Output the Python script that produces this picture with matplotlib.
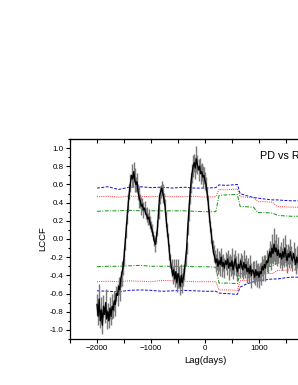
import numpy as np
import matplotlib
matplotlib.use("Agg")
import matplotlib.pyplot as plt
from matplotlib.ticker import MultipleLocator

plt.rcParams['font.family'] = ['Liberation Sans', 'DejaVu Sans']

# lag grid (days) and LCCF values
lag = np.arange(-2000, 1801, 20)
lccf = [
    -0.72, -0.85, -0.66, -0.9, -0.78, -0.95, -0.74, -0.83, -0.7, -0.88,
    -0.8, -0.9, -0.76, -0.85, -0.74, -0.78, -0.68, -0.72, -0.6, -0.62,
    -0.52, -0.56, -0.44, -0.38, -0.32, -0.2, -0.05, 0.1, 0.25, 0.4,
    0.52, 0.62, 0.7, 0.66, 0.74, 0.65, 0.6, 0.63, 0.52, 0.46,
    0.42, 0.36, 0.38, 0.32, 0.34, 0.28, 0.27, 0.22, 0.24, 0.18,
    0.14, 0.1, 0.04, -0.02, -0.06, 0.02, 0.12, 0.3, 0.48, 0.52,
    0.56, 0.5, 0.44, 0.36, 0.22, 0.1, 0.0, -0.14, -0.24, -0.32,
    -0.4, -0.34, -0.44, -0.36, -0.48, -0.38, -0.42, -0.52, -0.4, -0.48,
    -0.42, -0.36, -0.22, -0.1, 0.12, 0.3, 0.48, 0.62, 0.72, 0.8,
    0.84, 0.78, 0.88, 0.82, 0.76, 0.8, 0.72, 0.74, 0.68, 0.7,
    0.64, 0.6, 0.5, 0.4, 0.26, 0.14, 0.04, -0.08, -0.16, -0.2,
    -0.26, -0.22, -0.3, -0.24, -0.28, -0.2, -0.3, -0.26, -0.32, -0.24,
    -0.28, -0.22, -0.32, -0.26, -0.3, -0.24, -0.34, -0.28, -0.22, -0.3,
    -0.36, -0.28, -0.32, -0.24, -0.3, -0.34, -0.26, -0.32, -0.28, -0.36,
    -0.32, -0.38, -0.3, -0.4, -0.34, -0.36, -0.42, -0.34, -0.4, -0.36,
    -0.42, -0.36, -0.38, -0.3, -0.34, -0.28, -0.32, -0.24, -0.26, -0.2,
    -0.14, -0.2, -0.1, -0.16, -0.06, -0.14, -0.1, -0.18, -0.12, -0.2,
    -0.16, -0.22, -0.14, -0.2, -0.1, -0.18, -0.24, -0.16, -0.2, -0.14,
    -0.2, -0.24, -0.16, -0.22, -0.28, -0.2, -0.26, -0.22, -0.3, -0.24,
    -0.26,
]
lccf_err = [
    0.12, 0.1, 0.16, 0.08, 0.14, 0.1, 0.12, 0.09, 0.15, 0.11,
    0.1, 0.08, 0.12, 0.1, 0.14, 0.09, 0.11, 0.13, 0.08, 0.12,
    0.1, 0.12, 0.09, 0.14, 0.08, 0.1, 0.07, 0.09, 0.08, 0.1,
    0.08, 0.1, 0.12, 0.09, 0.11, 0.13, 0.08, 0.1, 0.09, 0.12,
    0.08, 0.1, 0.07, 0.09, 0.08, 0.06, 0.08, 0.07, 0.09, 0.07,
    0.06, 0.07, 0.05, 0.06, 0.08, 0.07, 0.09, 0.08, 0.1, 0.07,
    0.08, 0.1, 0.07, 0.08, 0.09, 0.08, 0.07, 0.09, 0.08, 0.1,
    0.1, 0.12, 0.09, 0.14, 0.1, 0.16, 0.12, 0.1, 0.13, 0.11,
    0.1, 0.09, 0.08, 0.07, 0.08, 0.1, 0.09, 0.11, 0.1, 0.12,
    0.1, 0.12, 0.14, 0.1, 0.12, 0.09, 0.11, 0.1, 0.12, 0.09,
    0.1, 0.08, 0.07, 0.08, 0.07, 0.06, 0.08, 0.07, 0.09, 0.08,
    0.1, 0.12, 0.09, 0.11, 0.13, 0.1, 0.12, 0.09, 0.11, 0.1,
    0.12, 0.1, 0.13, 0.09, 0.11, 0.14, 0.1, 0.12, 0.1, 0.11,
    0.1, 0.13, 0.11, 0.09, 0.12, 0.1, 0.14, 0.11, 0.1, 0.12,
    0.11, 0.1, 0.12, 0.14, 0.1, 0.12, 0.09, 0.11, 0.13, 0.1,
    0.12, 0.1, 0.13, 0.11, 0.12, 0.1, 0.14, 0.12, 0.11, 0.1,
    0.12, 0.14, 0.16, 0.12, 0.18, 0.13, 0.15, 0.12, 0.14, 0.12,
    0.13, 0.12, 0.15, 0.11, 0.14, 0.12, 0.13, 0.11, 0.12, 0.14,
    0.12, 0.11, 0.13, 0.12, 0.1, 0.12, 0.11, 0.13, 0.12, 0.11,
    0.12,
]

# significance levels
sig_lag = [-2000, -1800, -1600, -1400, -1200, -1000, -800, -600, -400, -200,
           0, 200, 260, 400, 600, 650, 750, 900, 980, 1100, 1250, 1340,
           1450, 1600, 1800]
blue_up = [0.56, 0.575, 0.545, 0.57, 0.575, 0.565, 0.57, 0.56, 0.57, 0.56,
           0.56, 0.565, 0.595, 0.59, 0.6, 0.5, 0.48, 0.455, 0.45, 0.44,
           0.43, 0.43, 0.425, 0.42, 0.42]
red_up = [0.465, 0.47, 0.46, 0.47, 0.47, 0.465, 0.47, 0.465, 0.465, 0.47,
          0.46, 0.465, 0.545, 0.54, 0.55, 0.465, 0.46, 0.455, 0.41, 0.41,
          0.405, 0.355, 0.355, 0.35, 0.35]
green_up = [0.305, 0.31, 0.31, 0.315, 0.31, 0.31, 0.31, 0.31, 0.31, 0.305,
            0.3, 0.3, 0.48, 0.485, 0.49, 0.36, 0.355, 0.35, 0.29, 0.29,
            0.285, 0.26, 0.255, 0.25, 0.25]
green_lo = [-0.305, -0.3, -0.3, -0.295, -0.29, -0.3, -0.3, -0.3, -0.3, -0.305,
            -0.305, -0.31, -0.485, -0.485, -0.49, -0.38, -0.38, -0.375, -0.31,
            -0.31, -0.3, -0.265, -0.26, -0.255, -0.25]
red_lo = [-0.47, -0.465, -0.47, -0.46, -0.465, -0.47, -0.455, -0.46, -0.465,
          -0.47, -0.47, -0.47, -0.56, -0.56, -0.565, -0.46, -0.455, -0.45,
          -0.39, -0.38, -0.38, -0.345, -0.345, -0.34, -0.34]
blue_lo = [-0.57, -0.575, -0.58, -0.565, -0.56, -0.565, -0.575, -0.57, -0.565,
           -0.57, -0.575, -0.575, -0.595, -0.6, -0.61, -0.53, -0.5, -0.47,
           -0.46, -0.45, -0.44, -0.44, -0.43, -0.42, -0.42]

fig = plt.figure(figsize=(2.98, 3.85), dpi=100)
ax = fig.add_axes([0.2349, 0.1195, 0.906, 0.5195])

ax.errorbar(lag, lccf, yerr=lccf_err, color='black', lw=1.0,
            ecolor='#7a7a7a', elinewidth=1.0, capsize=0, zorder=3)

ax.plot(sig_lag, blue_up, color='#1010d0', lw=0.7, dashes=(3, 1.5))
ax.plot(sig_lag, blue_lo, color='#1010d0', lw=0.7, dashes=(3, 1.5))
ax.plot(sig_lag, red_up, color='#ff3030', lw=0.7, dashes=(1, 1.2))
ax.plot(sig_lag, red_lo, color='#ff3030', lw=0.7, dashes=(1, 1.2))
ax.plot(sig_lag, green_up, color='#109010', lw=0.7, dashes=(4, 1.5, 1, 1.5))
ax.plot(sig_lag, green_lo, color='#109010', lw=0.7, dashes=(4, 1.5, 1, 1.5))

ax.set_xlim(-2500, 2500)
ax.set_ylim(-1.1, 1.1)
ax.xaxis.set_major_locator(MultipleLocator(1000))
ax.xaxis.set_minor_locator(MultipleLocator(500))
ax.yaxis.set_major_locator(MultipleLocator(0.2))
ax.yaxis.set_minor_locator(MultipleLocator(0.1))
ax.yaxis.set_major_formatter(plt.FuncFormatter(lambda v, p: '%.1f' % v))
ax.tick_params(which='major', direction='out', length=3, width=0.8,
               labelsize=5.8, pad=1.5)
ax.tick_params(which='minor', direction='out', length=1.8, width=0.8)
ax.tick_params(axis='x', which='minor', length=3)
for s in ax.spines.values():
    s.set_linewidth(0.9)

top = ax.secondary_xaxis('top')
top.xaxis.set_major_locator(MultipleLocator(500))
top.tick_params(direction='in', length=3, width=0.8, labeltop=False)

ax.set_xlabel('Lag(days)', fontsize=6.8, labelpad=3)
ax.set_ylabel('LCCF', fontsize=6.8, labelpad=2)
ax.text(1020, 0.91, 'PD vs R', fontsize=7.8, va='center', ha='left')

fig.savefig('out.png', dpi=100)
